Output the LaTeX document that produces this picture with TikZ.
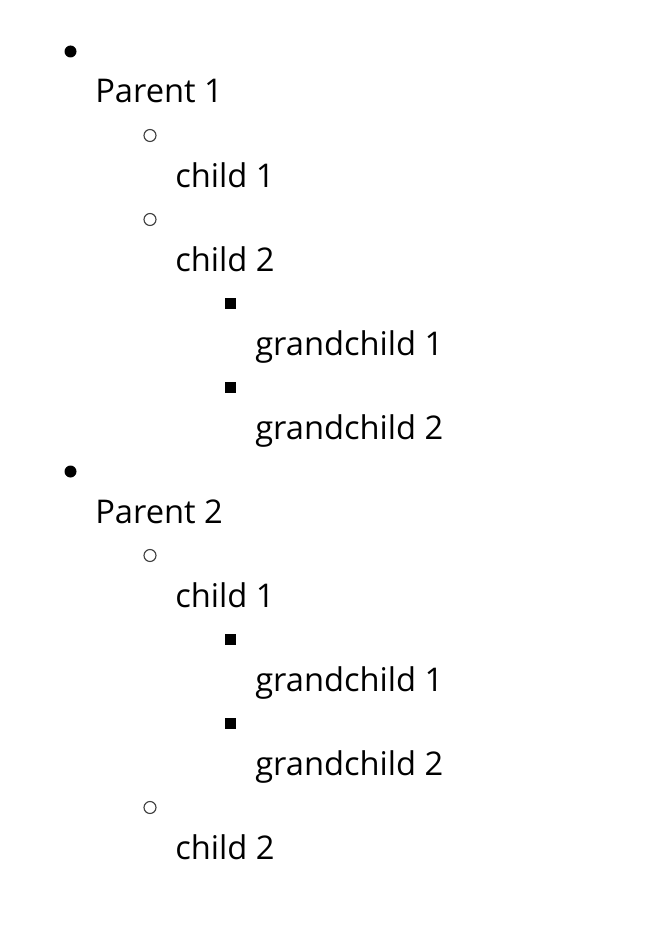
\documentclass[tikz,border=0pt]{standalone}
\usepackage{fontspec}
\setmainfont{Open Sans}
\usepackage{tikz}
\usetikzlibrary{positioning}

\tikzset{
  itemtext/.style={anchor=base west, inner sep=0pt, font=\fontsize{24.5}{29}\selectfont},
  dotmark/.style={circle, fill=black, inner sep=0pt, minimum size=9pt},
  ringmark/.style={circle, draw=black!75, line width=0.85pt, inner sep=0pt, minimum size=9pt},
  squaremark/.style={rectangle, fill=black, inner sep=0pt, minimum size=8.6pt}
}

\begin{document}
\begin{tikzpicture}[x=0.75pt, y=-0.75pt]
      \useasboundingbox (0,0) rectangle (661,942);
      \node[dotmark] (p1mark) at (70.5,51.5) {};
      \node[itemtext] (p1) at (95,103) {Parent 1};
      \node[ringmark] (p1c1mark) at (150,135.5) {};
      \node[itemtext] (p1c1) at (175,187) {child 1};
      \node[ringmark] (p1c2mark) at (150,219.5) {};
      \node[itemtext] (p1c2) at (175,271) {child 2};
      \node[squaremark] (p1g1mark) at (230.5,303.5) {};
      \node[itemtext] (p1g1) at (255,355) {grandchild 1};
      \node[squaremark] (p1g2mark) at (230.5,387.5) {};
      \node[itemtext] (p1g2) at (255,439) {grandchild 2};
      \node[dotmark] (p2mark) at (70.5,471.5) {};
      \node[itemtext] (p2) at (95,523) {Parent 2};
      \node[ringmark] (p2c1mark) at (150,555.5) {};
      \node[itemtext] (p2c1) at (175,607) {child 1};
      \node[squaremark] (p2g1mark) at (230.5,639.5) {};
      \node[itemtext] (p2g1) at (255,691) {grandchild 1};
      \node[squaremark] (p2g2mark) at (230.5,723.5) {};
      \node[itemtext] (p2g2) at (255,775) {grandchild 2};
      \node[ringmark] (p2c2mark) at (150,807.5) {};
      \node[itemtext] (p2c2) at (175,859) {child 2};
    \end{tikzpicture}
\end{document}
